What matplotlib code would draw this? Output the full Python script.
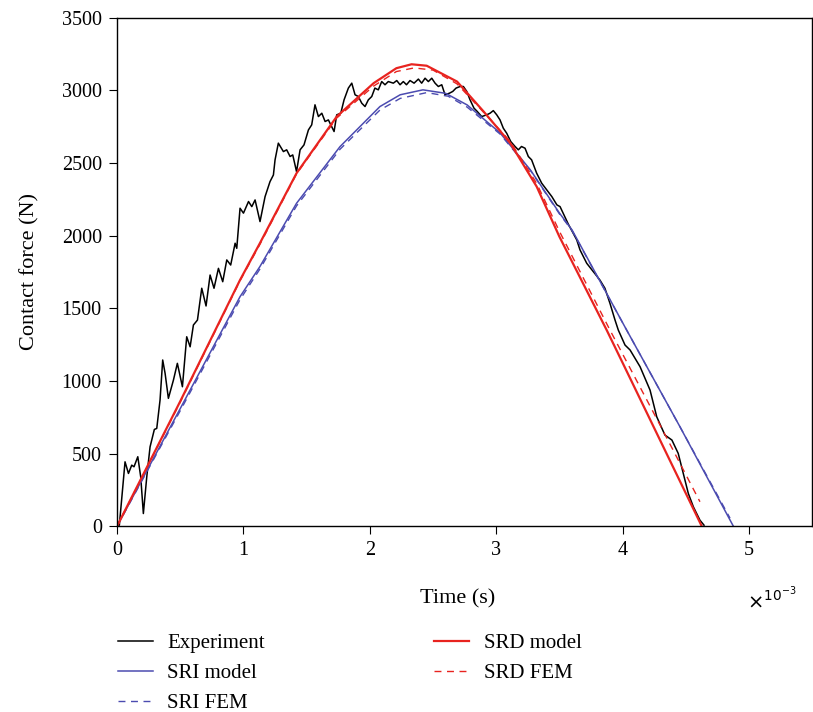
import matplotlib.pyplot as plt
from matplotlib.ticker import FuncFormatter

# time in ms, force in N
exp_t = [0.0, 0.018, 0.063, 0.09, 0.116, 0.134, 0.164, 0.187, 0.208, 0.235, 0.261, 0.295, 0.314,
         0.340, 0.361, 0.380, 0.406, 0.446, 0.477, 0.517, 0.551, 0.578, 0.604, 0.636, 0.670, 0.704,
         0.736, 0.767, 0.802, 0.836, 0.868, 0.899, 0.934, 0.947, 0.973, 1.00, 1.04, 1.066, 1.092,
         1.131, 1.171, 1.210, 1.237, 1.25, 1.276, 1.316, 1.342, 1.369, 1.39, 1.42, 1.448, 1.479,
         1.514, 1.54, 1.566, 1.593, 1.62, 1.646, 1.672, 1.717, 1.738, 1.77, 1.796, 1.83, 1.857,
         1.883, 1.909, 1.936, 1.962, 1.988, 2.015, 2.04, 2.067, 2.094, 2.12, 2.146, 2.186, 2.213,
         2.239, 2.265, 2.29, 2.318, 2.35, 2.384, 2.41, 2.437, 2.463, 2.49, 2.516, 2.542, 2.569,
         2.595, 2.63, 2.656, 2.682, 2.714, 2.74, 2.767, 2.793, 2.824, 2.85, 2.885, 2.925, 2.951,
         2.977, 3.004, 3.03, 3.056, 3.083, 3.115, 3.149, 3.175, 3.20, 3.228, 3.254, 3.28, 3.32,
         3.36, 3.40, 3.44, 3.48, 3.505, 3.57, 3.637, 3.663, 3.716, 3.768, 3.82, 3.86, 3.90, 3.94,
         3.966, 4.019, 4.059, 4.138, 4.217, 4.27, 4.335, 4.39, 4.44, 4.48, 4.52, 4.56, 4.612, 4.644]
exp_f = [0, 7, 443, 363, 420, 409, 478, 340, 87, 340, 546, 666, 673,
         868, 1144, 1052, 880, 1006, 1121, 960, 1304, 1235, 1385, 1419, 1638, 1516,
         1729, 1638, 1775, 1683, 1833, 1798, 1948, 1913, 2189, 2155, 2235, 2200, 2246,
         2097, 2269, 2372, 2418, 2522, 2637, 2579, 2591, 2545, 2556, 2441, 2591, 2625,
         2728, 2763, 2901, 2820, 2843, 2786, 2797, 2717, 2832, 2843, 2935, 3016, 3050,
         2970, 2958, 2912, 2889, 2935, 2958, 3016, 3004, 3061, 3039, 3061, 3050, 3068,
         3039, 3061, 3039, 3068, 3050, 3078, 3050, 3084, 3061, 3084, 3050, 3027, 3039,
         2970, 2981, 2993, 3016, 3027, 3027, 2993, 2935, 2878, 2855, 2820, 2832, 2843,
         2861, 2832, 2797, 2740, 2705, 2648, 2614, 2591, 2614, 2602, 2545, 2522, 2430,
         2361, 2315, 2269, 2212, 2200, 2080, 1971, 1902, 1810, 1752, 1695, 1638, 1534, 1419,
         1350, 1247, 1213, 1098, 937, 753, 627, 593, 501, 363, 225, 133, 41, 7]

sri_t = [0.0, 0.5, 0.973, 1.13, 1.42, 1.764, 2.08, 2.24, 2.42, 2.6, 2.77, 3.03, 3.27, 3.50,
         3.60, 4.032, 4.454, 4.876]
sri_f = [0, 810, 1580, 1787, 2223, 2613, 2889, 2970, 3004, 2980, 2900, 2708, 2453, 2156,
         2039, 1350, 684, 0]

sri_fem_t = [0.0, 0.5, 0.973, 1.13, 1.42, 1.764, 2.08, 2.24, 2.45, 2.62, 2.77, 3.03, 3.27, 3.50,
             3.60, 4.032, 4.454, 4.85]
sri_fem_f = [0, 795, 1560, 1770, 2205, 2595, 2865, 2945, 2985, 2960, 2885, 2700, 2450, 2150,
             2035, 1350, 684, 55]

srd_t = [0.0, 0.5, 0.973, 1.13, 1.42, 1.738, 2.03, 2.21, 2.33, 2.45, 2.69, 2.90, 3.11, 3.32,
         3.50, 3.874, 4.006, 4.626]
srd_f = [0, 860, 1695, 1948, 2430, 2820, 3050, 3153, 3180, 3170, 3061, 2855, 2639, 2338,
         1993, 1350, 1114, 0]

srd_fem_t = [0.0, 0.5, 0.973, 1.13, 1.42, 1.738, 2.03, 2.21, 2.35, 2.5, 2.69, 2.90, 3.11, 3.32,
             3.50, 3.90, 4.30, 4.612]
srd_fem_f = [0, 855, 1690, 1940, 2425, 2810, 3030, 3130, 3155, 3140, 3045, 2850, 2650, 2360,
             2030, 1350, 690, 168]

blue = '#4b4bb0'
red = '#e8231f'

plt.rcParams['font.family'] = ['Liberation Serif', 'DejaVu Serif']

fig = plt.figure(figsize=(8.13, 7.12), dpi=100)
ax = fig.add_axes([0.144, 0.261, 0.855, 0.714])

s = 1e-3
ax.plot([t * s for t in exp_t], exp_f, color='black', lw=1.1, label='Experiment')
ax.plot([t * s for t in sri_t], sri_f, color=blue, lw=1.1, label='SRI model')
ax.plot([t * s for t in sri_fem_t], sri_fem_f, color=blue, lw=1.0, ls=(0, (5, 4)), label='SRI FEM')
ax.plot([t * s for t in srd_t], srd_f, color=red, lw=1.6, label='SRD model')
ax.plot([t * s for t in srd_fem_t], srd_fem_f, color=red, lw=1.0, ls=(0, (5, 4)), label='SRD FEM')

ax.set_xlim(0, 5.5e-3)
ax.set_ylim(0, 3500)
ax.set_xticks([i * s for i in range(6)])
ax.xaxis.set_major_formatter(FuncFormatter(lambda v, p: '%d' % round(v / s)))
ax.set_yticks(range(0, 3501, 500))
ax.tick_params(direction='out', length=6, labelsize=14.5, top=False, right=False, pad=5)
for sp in ax.spines.values():
    sp.set_linewidth(1.0)

ax.set_xlabel('Time (s)', fontsize=16)
ax.xaxis.set_label_coords(0.49, -0.125)
ax.set_ylabel('Contact force (N)', fontsize=16)
ax.yaxis.set_label_coords(-0.111, 0.5)
fig.text(0.919, 0.158, r'$\times^{10^{-3}}$', fontsize=14, ha='left', va='center')

fig.legend(loc='upper left', bbox_to_anchor=(0.145, 0.110), ncol=2, frameon=False,
           fontsize=15, handlelength=1.68, handletextpad=0.68, columnspacing=8.15,
           labelspacing=0.5, borderpad=0, borderaxespad=0)

fig.savefig('out.png', dpi=100)
